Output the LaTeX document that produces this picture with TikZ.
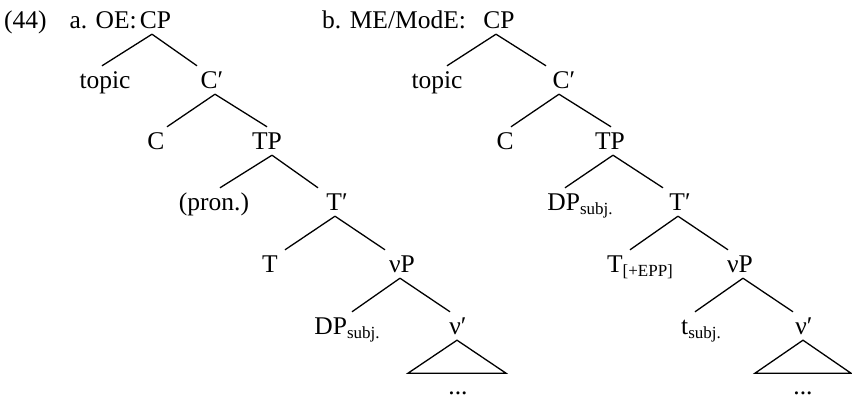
\documentclass[tikz,border=0pt]{standalone}
\usepackage{fontspec}
\setmainfont{Liberation Serif}
\newcommand{\subsc}[1]{\raisebox{-4pt}{\fontsize{17}{19}\selectfont #1}}
\tikzset{
  every node/.style={font=\fontsize{25.5}{30}\selectfont},
  lbl/.style={anchor=base, inner xsep=0pt, inner ysep=6pt, text height=16pt, text depth=0pt},
  branch/.style={line width=1.3pt}
}
\begin{document}
\begin{tikzpicture}[x=1pt,y=-1pt]
\useasboundingbox (0,0) rectangle (852,399);

% (44) a. OE
\node[anchor=base west, inner sep=0pt] (exnum) at (4,28) {(44)};
\node[anchor=base east, inner sep=0pt] (labA) at (137,28) {a. OE:};

\node[lbl] (cpA) at (155.5,28) {CP};
\node[lbl] (topicA) at (105,88) {topic};
\node[lbl] (cbarA) at (212,88) {C′};
\node[lbl] (cA) at (156,149) {C};
\node[lbl] (tpA) at (267,149) {TP};
\node[lbl] (pronA) at (214,210) {(pron.)};
\node[lbl] (tbarA) at (337,210) {T′};
\node[lbl] (tA) at (270,272) {T};
\node[lbl] (vpA) at (402,272) {νP};
\node[lbl] (dpA) at (347,334) {DP\subsc{subj.}};
\node[lbl] (vbarA) at (458,334) {ν′};
\node[lbl] (dotsA) at (458,394) {...};

\draw[branch] ([xshift=-3.5pt]cpA.south) -- ([xshift=-3pt]topicA.north);
\draw[branch] ([xshift=-3.5pt]cpA.south) -- ([xshift=-15pt]cbarA.north);
\draw[branch] ([xshift=3pt]cbarA.south) -- ([xshift=11pt]cA.north);
\draw[branch] ([xshift=3pt]cbarA.south) -- (tpA.north);
\draw[branch] ([xshift=5pt]tpA.south) -- ([xshift=6pt]pronA.north);
\draw[branch] ([xshift=5pt]tpA.south) -- ([xshift=-19pt]tbarA.north);
\draw[branch] ([xshift=-2pt]tbarA.south) -- ([xshift=15pt]tA.north);
\draw[branch] ([xshift=-2pt]tbarA.south) -- ([xshift=-17pt]vpA.north);
\draw[branch] ([xshift=-2pt]vpA.south) -- ([xshift=5pt]dpA.north);
\draw[branch] ([xshift=-2pt]vpA.south) -- ([xshift=-8pt]vbarA.north);
\draw[branch] ([xshift=-1pt]vbarA.south) -- ++(-49,33) -- ++(98,0) -- cycle;

% b. ME/ModE
\node[anchor=base west, inner sep=0pt] (labB) at (322,28) {b. ME/ModE:};

\node[lbl] (cpB) at (499,28) {CP};
\node[lbl] (topicB) at (437,88) {topic};
\node[lbl] (cbarB) at (564,88) {C′};
\node[lbl] (cB) at (505,149) {C};
\node[lbl] (tpB) at (610,149) {TP};
\node[lbl] (dpB) at (580,210) {DP\subsc{subj.}};
\node[lbl] (tbarB) at (680,210) {T′};
\node[lbl] (teppB) at (640,272) {T\subsc{[+EPP]}};
\node[lbl] (vpB) at (740,272) {νP};
\node[lbl] (tsubjB) at (701,334) {t\subsc{subj.}};
\node[lbl] (vbarB) at (804,334) {ν′};
\node[lbl] (dotsB) at (803,394) {...};

\draw[branch] ([xshift=-3pt]cpB.south) -- ([xshift=10pt]topicB.north);
\draw[branch] ([xshift=-3pt]cpB.south) -- ([xshift=-18pt]cbarB.north);
\draw[branch] ([xshift=-5pt]cbarB.south) -- ([xshift=6pt]cB.north);
\draw[branch] ([xshift=-5pt]cbarB.south) -- ([xshift=1pt]tpB.north);
\draw[branch] ([xshift=3pt]tpB.south) -- ([xshift=-15pt]dpB.north);
\draw[branch] ([xshift=3pt]tpB.south) -- ([xshift=-17pt]tbarB.north);
\draw[branch] ([xshift=-2pt]tbarB.south) -- ([xshift=-10pt]teppB.north);
\draw[branch] ([xshift=-2pt]tbarB.south) -- ([xshift=-12pt]vpB.north);
\draw[branch] ([xshift=3pt]vpB.south) -- ([xshift=-6pt]tsubjB.north);
\draw[branch] ([xshift=3pt]vpB.south) -- ([xshift=-11pt]vbarB.north);
\draw[branch] ([xshift=-1pt]vbarB.south) -- ++(-48,33) -- ++(96,0) -- cycle;
\end{tikzpicture}
\end{document}
